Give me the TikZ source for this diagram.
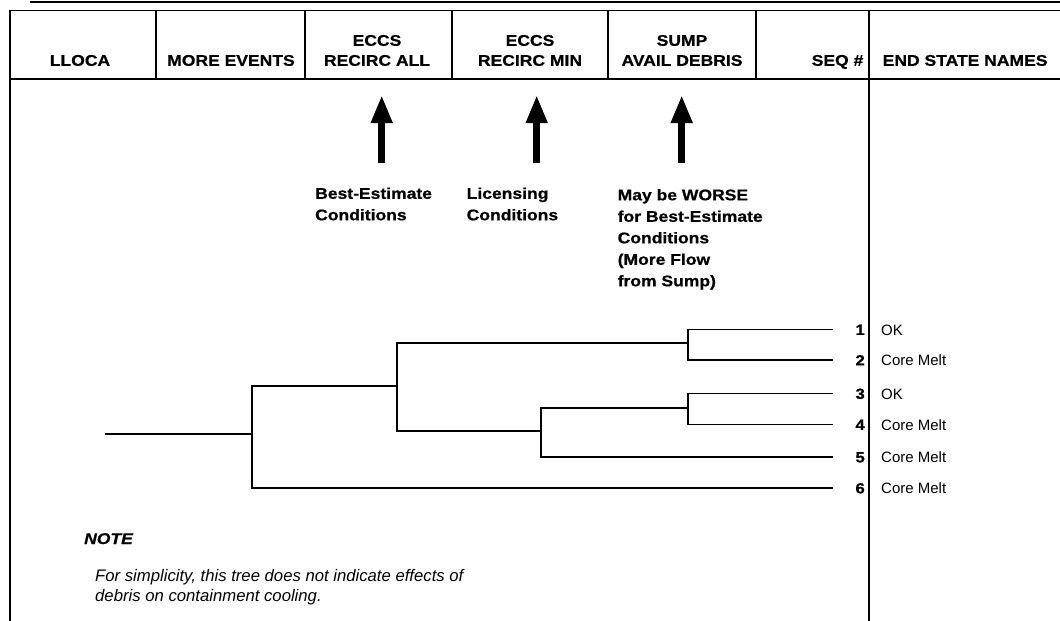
\documentclass[tikz,border=0pt]{standalone}
\usepackage{fontspec}
\setmainfont{Liberation Sans}[BoldFeatures={FakeStretch=1.13,FakeBold=0.6},BoldItalicFeatures={FakeStretch=1.13,FakeBold=0.6}]
\usetikzlibrary{arrows.meta}

\begin{document}
\begin{tikzpicture}[x=1pt,y=-1pt,
  rule/.style={line width=1.5pt},
  branch/.style={line width=1.8pt, line join=miter},
  bigarrow/.style={line width=7pt, -{Triangle[width=20pt,length=28pt]}},
  head/.style={font=\fontsize{15.5}{20}\selectfont\bfseries, align=center,
               inner sep=0pt, text depth=0pt, anchor=south},
  remark/.style={font=\fontsize{15.5}{21.5}\selectfont\bfseries, align=left,
               inner sep=0pt, text depth=0pt, anchor=south west},
  seqno/.style={font=\fontsize{14.8}{18}\selectfont\bfseries, inner sep=0pt, anchor=base east},
  endname/.style={font=\fontsize{15}{18}\selectfont, inner sep=0pt, anchor=base west}]

\useasboundingbox (0,0) rectangle (1060,621);
\fill[white] (0,0) rectangle (1060,621);

% rule along the top edge
\draw[line width=2.2pt] (30,2) -- (1060,2);

% header frame and column dividers
\draw[rule] (1061,10.5) -- (10,10.5) -- (10,621);
\draw[rule] (10,79) -- (1061,79);
\foreach \cx in {156,305,452,608,756} \draw[rule] (\cx,10.5) -- (\cx,79);
\draw[rule] (869,10.5) -- (869,621);

% column headings
\node[head] (hA) at (80,66)  {LLOCA};
\node[head] (hB) at (231,66) {MORE EVENTS};
\node[head] (hC) at (377,66) {ECCS\\RECIRC ALL};
\node[head] (hD) at (530,66) {ECCS\\RECIRC MIN};
\node[head] (hE) at (682,66) {SUMP\\AVAIL DEBRIS};
\node[head, anchor=south east] (hF) at (863.5,66) {SEQ \#};
\node[head, anchor=south west] (hG) at (882.5,66) {END STATE NAMES};

% pointers to the headings and their remarks
\coordinate (p1b) at (381.7,163); \coordinate (p1t) at (381.7,95);
\coordinate (p2b) at (536.7,163); \coordinate (p2t) at (536.7,95);
\coordinate (p3b) at (681.7,163); \coordinate (p3t) at (681.7,95);
\draw[bigarrow] (p1b) -- (p1t);
\draw[bigarrow] (p2b) -- (p2t);
\draw[bigarrow] (p3b) -- (p3t);

\node[remark] (r1) at (315,220.5) {Best-Estimate\\Conditions};
\node[remark] (r2) at (466.5,220.5) {Licensing\\Conditions};
\node[remark] (r3) at (617.5,286.5) {May be WORSE\\for Best-Estimate\\Conditions\\(More Flow\\from Sump)};

% event tree
\coordinate (st) at (105,434);
\coordinate (e1) at (833,329.5);
\coordinate (e2) at (833,360);
\coordinate (e3) at (833,393.5);
\coordinate (e4) at (833,424.5);
\coordinate (e5) at (833,457);
\coordinate (e6) at (833,488);

\draw[branch] (st) -- (252,434);
\draw[branch] (397,386) -| (252,488) -- (e6);
\draw[branch] (688,343) -| (397,431) -- (541,431);
\draw[branch] (688,408) -| (541,457) -- (e5);
\draw[branch] (e1) -| (688,360) -- (e2);
\draw[branch] (e3) -| (688,424.5) -- (e4);

% sequence numbers and end states
\foreach \i/\yy/\nm in {1/329.5/OK, 2/360/Core Melt, 3/393.5/OK, 4/424.5/Core Melt, 5/457/Core Melt, 6/488/Core Melt} {
  \node[seqno] (q\i) at (865,\yy+5.4) {\i};
  \node[endname] (z\i) at (881,\yy+5.5) {\nm};
}

% note
\node[font=\fontsize{15.5}{20}\selectfont\bfseries\itshape, inner sep=0pt, anchor=base west] (nt) at (84,544) {NOTE};
\node[font=\fontsize{16.7}{20}\selectfont\itshape, align=left, inner sep=0pt, text depth=0pt, anchor=south west] (nb) at (95,601.5)
  {For simplicity, this tree does not indicate effects of\\debris on containment cooling.};
\end{tikzpicture}
\end{document}
